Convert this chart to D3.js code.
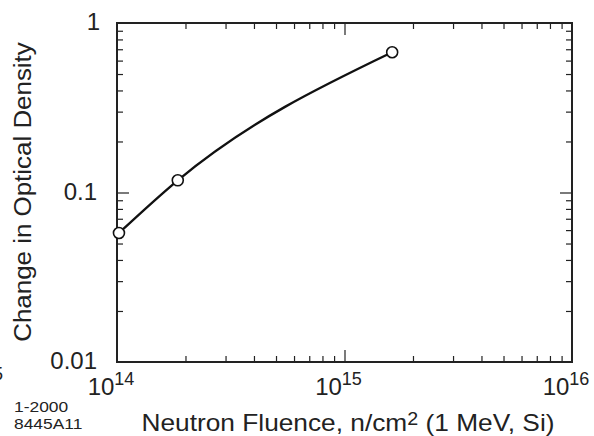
<!DOCTYPE html>
<html>
<head>
<meta charset="utf-8">
<script src="https://cdn.jsdelivr.net/npm/d3@7"></script>
<style>
  body { margin: 0; background: #fff; }
  svg { font-family: "Liberation Sans", Arial, Helvetica, sans-serif; }
</style>
</head>
<body>
<svg id="chart" width="594" height="436"></svg>
<script>
// data
const fluence = [1.02e14, 1.85e14, 1.62e15];
const density = [0.0577, 0.118, 0.672];
const xTickExps = [14, 15, 16];
const yTickLabels = ["0.01", "0.1", "1"];

const margin = { left: 117, top: 23, right: 22, bottom: 74 };
const width = 594 - margin.left - margin.right;
const height = 436 - margin.top - margin.bottom;

const svg = d3.select("#chart");
const vis = svg.append("g").attr("transform", `translate(${margin.left}, ${margin.top})`);

const xScale = d3.scaleLog().domain([1e14, 1e16]).range([0, width]);
const yScale = d3.scaleLog().domain([0.01, 1]).range([height, 0]);

// minor ticks 2..9 in each decade
const xMinor = [], yMinor = [];
for (let e = 14; e < 16; e++) for (let m = 2; m <= 9; m++) xMinor.push(m * Math.pow(10, e));
for (let e = -2; e < 0; e++) for (let m = 2; m <= 9; m++) yMinor.push(m * Math.pow(10, e));

const ink = "#222";

// inward ticks on all four sides
function tickSet(axisFn, scale, vals, size, transform) {
    vis.append("g").attr("transform", transform || null)
        .call(axisFn(scale).tickValues(vals).tickSize(size).tickFormat(""))
        .call(g => g.select(".domain").remove());
}
tickSet(d3.axisTop, xScale, xMinor, 6, `translate(0, ${height})`);
tickSet(d3.axisTop, xScale, [1e15], 12, `translate(0, ${height})`);
tickSet(d3.axisBottom, xScale, xMinor, 6);
tickSet(d3.axisBottom, xScale, [1e15], 12);
tickSet(d3.axisRight, yScale, yMinor, 6);
tickSet(d3.axisRight, yScale, [0.1], 12);
tickSet(d3.axisLeft, yScale, yMinor, 6, `translate(${width}, 0)`);
tickSet(d3.axisLeft, yScale, [0.1], 12, `translate(${width}, 0)`);

vis.selectAll(".tick line").attr("stroke", ink).attr("stroke-width", 1.2);

// frame
vis.append("rect")
    .attr("width", width).attr("height", height)
    .attr("fill", "none").attr("stroke", ink).attr("stroke-width", 2);

// y tick labels
vis.selectAll(".ylab").data(yTickLabels).enter().append("text")
    .attr("x", d => d === "1" ? -17 : -20)
    .attr("y", d => yScale(+d) + 7)
    .attr("text-anchor", "end")
    .attr("font-size", 24)
    .attr("fill", ink)
    .text(d => d);

// x tick labels (10^n)
const xl = vis.selectAll(".xlab").data(xTickExps).enter().append("text")
    .attr("x", d => xScale(Math.pow(10, d)) - 6)
    .attr("y", height + 33)
    .attr("text-anchor", "middle")
    .attr("font-size", 24)
    .attr("fill", ink);
xl.append("tspan").text("10");
xl.append("tspan").attr("font-size", 18).attr("dy", -10).text(d => d);

// curve
const line = d3.line()
    .x((d, i) => xScale(fluence[i]))
    .y(d => yScale(d))
    .curve(d3.curveMonotoneX);
vis.append("path")
    .datum(density)
    .attr("d", line)
    .attr("fill", "none")
    .attr("stroke", "#111")
    .attr("stroke-width", 2.4);

vis.selectAll(".pt").data(density).enter().append("circle")
    .attr("cx", (d, i) => xScale(fluence[i]))
    .attr("cy", d => yScale(d))
    .attr("r", 5.5)
    .attr("fill", "#fff")
    .attr("stroke", "#111")
    .attr("stroke-width", 1.6);

// axis titles (text in the original is a bit wider along its reading direction)
const xt = svg.append("text")
    .attr("transform", "translate(348, 431) scale(1.095, 1)")
    .attr("text-anchor", "middle")
    .attr("font-size", 24)
    .attr("fill", ink);
xt.append("tspan").text("Neutron Fluence, n/cm");
xt.append("tspan").attr("font-size", 18).attr("dy", -6).text("2");
xt.append("tspan").attr("dy", 6).text(" (1 MeV, Si)");

svg.append("text")
    .attr("transform", "translate(31, 192) rotate(-90) scale(1.08, 1)")
    .attr("text-anchor", "middle")
    .attr("font-size", 24)
    .attr("fill", ink)
    .text("Change in Optical Density");

// figure id
const idg = svg.append("g").attr("transform", "translate(14, 0) scale(1.16, 1)");
idg.append("text").attr("x", 0).attr("y", 412).attr("font-size", 15).attr("fill", ink).text("1-2000");
idg.append("text").attr("x", 0).attr("y", 429).attr("font-size", 15).attr("fill", ink).text("8445A11");
svg.append("text").attr("x", -7).attr("y", 380).attr("font-size", 18).attr("fill", ink).text("5");
</script>
</body>
</html>
